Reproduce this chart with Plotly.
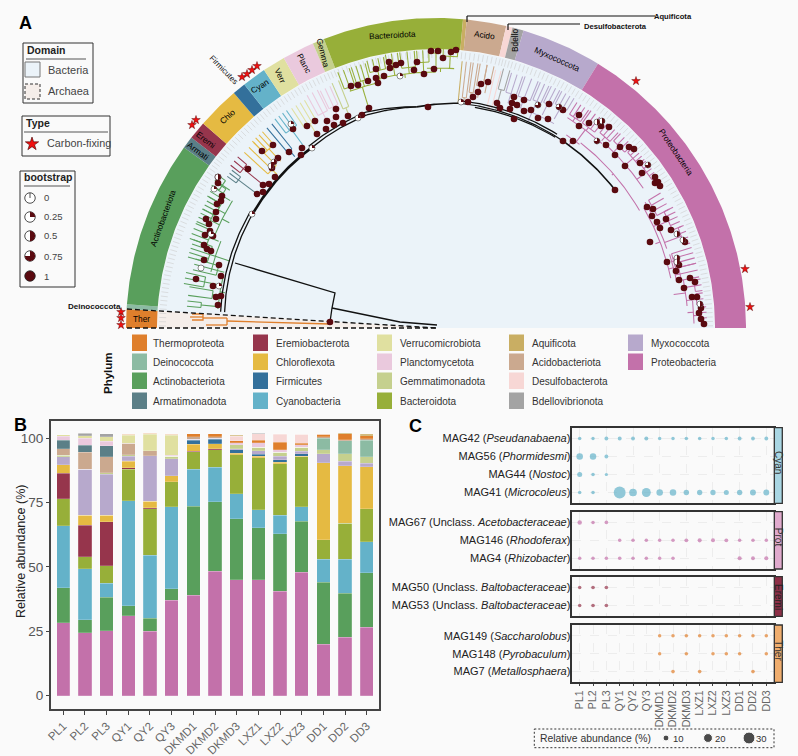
import numpy as np
import plotly.graph_objects as go

W, H = 798, 756
FONT = "Liberation Sans"
BG = "#FAFAFA"
DARK = "#5A0A10"

# ---------- Phylum table ----------
phyla = ["Thermoproteota", "Deinococcota", "Actinobacteriota", "Armatimonadota", "Eremiobacterota",
         "Chloroflexota", "Firmicutes", "Cyanobacteria", "Verrucomicrobiota", "Planctomycetota",
         "Gemmatimonadota", "Bacteroidota", "Aquificota", "Acidobacteriota", "Desulfobacterota",
         "Bdellovibrionota", "Myxococcota", "Proteobacteria"]
phylum_colors = ["#DF7F2C", "#8CBBA3", "#599F5C", "#5B7F87", "#96354C", "#E5BA42", "#33709B", "#64B2C9",
                 "#E0E0A0", "#EAC9DD", "#C5D08E", "#97AF39", "#C9AE63", "#CBA98F", "#F7D7D5", "#A3A3A3",
                 "#B7A9CC", "#C371AA"]
# angle (degrees) at which each ring sector starts and ends
ring_from = [180, 176.5, 175.6, 144.4, 142.1, 138.7, 130.7, 128.2, 123.7, 119.4, 113.4, 111.2, 85, 84.3, 76.9, 75.7, 73.6, 58.5]
ring_to = [176.5, 175.6, 144.4, 142.1, 138.7, 130.7, 128.2, 123.7, 119.4, 113.4, 111.2, 85, 84.3, 76.9, 75.7, 73.6, 58.5, 0]
leaf_counts = [4, 1, 35, 3, 4, 9, 3, 5, 5, 7, 3, 29, 1, 8, 2, 3, 17, 64]

# ---------- Tree: clades as (r_spine, theta_from, theta_to, tips, r_tip, r_stem) ----------
clades = {
    "Thermoproteota": [],
    "Actinobacteriota": [(236, 175, 173.8, 2, 250, 219), (226, 172.5, 170.5, 2, 250, 219), (236, 170, 167.5, 3, 256, 224),
                         (226, 166.5, 164, 3, 250, 219), (238, 164, 160, 5, 258, 232), (244, 160, 156.5, 4, 262, 234),
                         (250, 156, 153, 4, 262, 240), (248, 153, 150, 4, 262, 240), (252, 150, 146.5, 4, 264, 242),
                         (257, 147.5, 145, 3, 266, 248), (219, 175, 166, 0, 0, 214), (232, 166, 158, 0, 0, 217),
                         (240, 158, 148, 0, 0, 232)],
    "Armatimonadota": [(247, 144, 142.3, 3, 258, 224)],
    "Eremiobacterota": [(250, 141.6, 139.2, 3, 262, 224)],
    "Chloroflexota": [(228, 137.5, 134.5, 3, 260, 221), (245, 134.5, 131.5, 4, 262, 228)],
    "Firmicutes": [(230, 130.2, 128.8, 2, 262, 222)],
    "Cyanobacteria": [(246, 127.6, 124.5, 4, 264, 226)],
    "Verrucomicrobiota": [(240, 123.3, 120, 4, 263, 228)],
    "Planctomycetota": [(243, 119, 116.5, 3, 266, 232), (244, 116, 113.7, 3, 264, 232), (232, 118, 115, 0, 0, 226)],
    "Gemmatimonadota": [(238, 113, 111.5, 2, 266, 230)],
    "Bacteroidota": [(256, 111, 108.5, 3, 274, 252), (258, 108, 105, 4, 274, 252), (264, 104.5, 101, 4, 276, 254),
                     (268, 100.5, 98, 3, 278, 256), (262, 97.5, 94.5, 3, 278, 256), (266, 94, 91.5, 3, 278, 256),
                     (275, 91, 89, 2, 281, 262), (272, 88.5, 85.5, 3, 280, 260), (252, 110, 104, 0, 0, 230),
                     (256, 104, 90, 0, 0, 252), (260, 92, 86, 0, 0, 256)],
    "Aquificota": [(232, 84.4, 84.4, 1, 268, 226)],
    "Acidobacteriota": [(232, 83.5, 82.5, 2, 268, 226), (238, 82, 81, 2, 268, 228), (246, 80.5, 79, 2, 268, 234),
                        (252, 79, 77.5, 2, 268, 240)],
    "Desulfobacterota": [(228, 77, 75.8, 2, 265, 224)],
    "Bdellovibrionota": [(247, 75.4, 74, 2, 268, 226)],
    "Myxococcota": [(246, 73.5, 71, 3, 266, 236), (246, 70.5, 67.5, 3, 267, 236), (248, 67, 65, 3, 267, 238),
                    (250, 64.5, 62.5, 3, 268, 238), (254, 62, 59, 4, 268, 240), (236, 72, 60, 0, 0, 226)],
    "Proteobacteria": [(252, 58, 55, 4, 266, 248), (252, 54.5, 51, 4, 267, 248), (255, 50, 47, 4, 267, 250),
                       (258, 46.5, 43, 4, 268, 250), (260, 42.5, 39, 5, 268, 250), (262, 38.5, 34.5, 5, 268, 250),
                       (248, 58, 48, 0, 0, 233), (250, 48, 34, 0, 0, 248), (233, 56, 52, 0, 0, 226),
                       (235, 52, 30, 0, 0, 233), (240, 30, 12, 0, 0, 235), (248, 31, 27, 4, 262, 244),
                       (256, 27, 22.5, 5, 266, 244), (262, 22.5, 18.5, 4, 268, 244), (244, 31, 19, 0, 0, 240),
                       (247, 17.5, 14, 4, 268, 245), (250, 14, 11, 3, 268, 245), (245, 17.5, 11, 0, 0, 240),
                       (262, 10.5, 8, 3, 269, 252), (262, 7.5, 5, 3, 269, 252), (266, 4.5, 1, 4, 271, 258),
                       (252, 11, 5, 0, 0, 240), (258, 6, 1, 0, 0, 252)],
}
# backbone pieces: (r_from, r_to, theta_from, theta_to, width)
backbone = [(212, 216, 175.7, 148, 1.3), (216, 219, 175.7, 148, 1.3), (216, 219, 148, 125, 2.6), (219, 224, 125, 108, 1.3),
            (222, 227, 125, 108, 1.3), (224, 222, 108, 95, 1.3), (227, 222, 108, 95, 1.3), (222, 226, 95, 84, 1.6),
            (226, 226, 84, 55, 1.2), (228.5, 228.5, 84, 58, 1.2), (224, 225, 80, 58, 1.2), (226, 226, 55, 37.6, 1.6)]
root_a_x, root_a_y = [-201, -101, -104, -106], [65, 35, 20, 6]
root_b_x, root_b_y = [-104, -36, 1], [20, 6, 3]
ther_x = [-106, -209, None, -209, -209, None, -233, -209, None, -230, -209, None, -244, -233, -233, -244, None, -246, -233]
ther_y = [4, 7, None, 10, 3, None, 10, 10, None, 3, 3, None, 14, 14, 8, 8, None, 11, 11]

# supported nodes
node_x = [-218, -218, -214, -215, -219, -220, -220, -230, -227, -226, -231, -223, -232, -229, -225, -232, -217, -215, -240, -223, -215, -220, -218,
          -100, -67, -74, -88, -100, -109, -121, -129, -102, -110, -93, -119, -143, -134, -135, -147, -163, -174, -158, -161, -188, -167, -173, -173, -179, -164,
          -5, 2, 15, 20, 7, -19, -47, -35, -40, -46, -60, -22, -2, -12, -52, -60, -68, -58, -78, -85, -8,
          32, 37, 42, 45, 52, 61, 64, 78, 76, 81, 88, 74, 78, 88, 95, 113, 102, 112, 127,
          143, 143, 153, 165, 173, 127, 137, 170, 184, 193, 198, 179, 189, 204, 206, 219, 219, 222, 224, 179, 211, 217, 216, 221, 230, 224, 235, 249, 214,
          243, 231, 240, 243, 254, 259, 248, 256, 261, 265, 263, 265, 268, -106]
node_y = [151, 145, 132, 127, 124, 116, 109, 109, 104, 97, 93, 92, 83, 79, 77, 68, 63, 52, 49, 42, 32, 31, 23,
          219, 220, 213, 212, 211, 207, 207, 202, 203, 199, 205, 194, 199, 180, 173, 176, 183, 177, 170, 151, 159, 144, 143, 136, 134, 160,
          277, 277, 276, 278, 270, 266, 266, 265, 263, 260, 259, 258, 259, 254, 252, 250, 247, 245, 243, 242, 221,
          226, 231, 236, 244, 246, 225, 220, 231, 225, 223, 228, 219, 209, 217, 218, 224, 210, 209, 218,
          213, 202, 205, 202, 201, 187, 187, 183, 181, 181, 179, 173, 162, 165, 155, 151, 145, 146, 142, 138, 121, 119, 112, 106, 109, 100, 98, 86, 86,
          63, 66, 57, 48, 50, 46, 40, 31, 31, 20, 15, 9, 4, 6]
# nodes with partial support: position and bootstrap
weak_x = [-218, -222, -225, -235, -217, -184, -78, -145, -124, -162, -165, -36, 25, 102, 123, 161, 166, 161, 212, 241, 247, 241, 241, 264]
weak_y = [151, 139, 94, 60, 42, 114, 210, 204, 180, 166, 162, 252, 226, 223, 221, 206, 207, 187, 163, 94, 88, 70, 66, 24]
weak_b = [.5, .25, .25, 0, .25, .25, .25, .25, .25, .75, .5, .25, .25, .75, .75, .5, .5, .75, .75, .5, .5, .5, .5, .5]

star_x = [-194, -189, -184, -179, -244, -240, -315, -315, -315, 200, 309, 314]
star_y = [251, 254, 258, 262, 203, 208, 16, 10, 3, 247, 59, 21]

boot_levels = [0, .25, .5, .75, 1]

# ---------- Panel B ----------
samples = ["PL1", "PL2", "PL3", "QY1", "QY2", "QY3", "DKMD1", "DKMD2", "DKMD3", "LXZ1", "LXZ2", "LXZ3", "DD1", "DD2", "DD3"]
abundance = {
    "Proteobacteria": [28.3, 24.5, 25.2, 31, 25, 37, 39, 48.3, 45, 45, 40.5, 48, 20, 22.7, 26.5],
    "Actinobacteriota": [13.7, 5, 13, 4, 5, 4.5, 34.5, 27, 23.7, 20.3, 22.3, 19.7, 24, 17.1, 21.2],
    "Cyanobacteria": [24, 19.7, 5.5, 40.7, 24.5, 31.8, 14.5, 13.5, 9.8, 7, 7.2, 5.6, 9, 13.2, 12.1],
    "Bacteroidota": [10.5, 4.8, 6.8, 12.3, 18, 9.7, 6.7, 6.8, 15, 20.2, 20, 19.4, 7.5, 14, 12.7],
    "Eremiobacterota": [9.8, 12.1, 17.1, .5, .5, 0, .2, .4, 0, 0, 0, 0, 0, 0, 0],
    "Chloroflexota": [3.4, 3.9, 2.4, 2.5, 2.5, 2.5, 2.8, 1.8, .7, .5, .7, .3, 30, 22.3, 16.5],
    "Firmicutes": [0, 0, 0, .2, 0, 0, 1.5, 1.7, 1.3, .8, 1, 1, 0, 0, 0],
    "Myxococcota": [3.1, 18, 16, 1.8, 17.7, 6.5, .4, .5, .5, 1.4, 1.3, 1, 3.5, 1.7, 1.3],
    "Gemmatimonadota": [.5, 0, .6, .5, 0, 1, 0, 0, 1.5, 1.3, 1.5, 1.5, 1.5, 3, 2.5],
    "Deinococcota": [0, 0, 0, 0, 0, 0, 0, 0, 0, 0, 0, 0, 4.5, 5, 6.5],
    "Acidobacteriota": [2.7, 6.5, 6.1, 4.5, 2, 0, .9, .5, 0, 0, 0, 0, .5, .4, .5],
    "Armatimonadota": [3.2, 2.8, 4.3, 0, 0, 0, 0, 0, 0, 0, 0, 0, 0, 0, 0],
    "Planctomycetota": [1.5, 2.7, 1.8, 0, 0, .4, 0, 0, .8, 1.8, 1, 1, 0, 0, 0],
    "Verrucomicrobiota": [.6, 1, 1.7, 3.2, 6.4, 7.8, 0, 0, 0, 0, 0, 0, 0, 0, 0],
    "Thermoproteota": [0, 0, 0, .3, .4, .3, 1.2, 1.2, .7, .9, 3, .5, 1, 2.3, 1.2],
    "Desulfobacterota": [0, 0, 0, 0, 0, 0, 0, 0, 1.8, 2.5, 3, 3.5, 0, 0, 0],
    "Bdellovibrionota": [0, 1, 1.3, 0, 0, 0, 0, 0, .2, .2, .2, 0, 0, 0, 0],
    "Aquificota": [0, 0, 0, 0, 0, 0, 0, 0, .2, 0, 0, .1, .3, .2, .6],
}

# ---------- Panel C (None = not detected) ----------
N = None
cyan_mags = ["MAG42 (<i>Pseudanabaena</i>)", "MAG56 (<i>Phormidesmi</i>)", "MAG44 (<i>Nostoc</i>)", "MAG41 (<i>Microcoleus</i>)"]
cyan_vals = [[2, 1.5, 3, 3.5, 3, 3.5, 2, 2, 2, 2, 2, 2, 3, 3, 3],
             [12, 12, 3, N, N, N, N, N, N, N, N, N, N, N, N],
             [7, 2, 1, N, N, N, N, N, N, N, N, N, N, N, N],
             [2, 2, N, 30, 16, 20, 12, 12, 8.5, 8, 8, 7, 8, 10, 10]]
prot_mags = ["MAG67 (Unclass. <i>Acetobacteraceae</i>)", "MAG146 (<i>Rhodoferax</i>)", "MAG4 (<i>Rhizobacter</i>)"]
prot_vals = [[5, 2, 2.5, N, N, N, N, N, N, N, N, N, N, N, N],
             [N, N, N, 2, 2, 2, 2, 2, 3, 4, 3.5, 3, 2, 2, 2],
             [2, 2, 2, 2.5, 2, 2, 2, 2, N, N, N, N, 4, 3, 4]]
erem_mags = ["MAG50 (Unclass. <i>Baltobacteraceae</i>)", "MAG53 (Unclass. <i>Baltobacteraceae</i>)"]
erem_vals = [[2, 2.5, 2.5, N, N, N, N, N, N, N, N, N, N, N, N],
             [2, 2.5, 2.5, N, N, N, N, N, N, N, N, N, N, N, N]]
ther_mags = ["MAG149 (<i>Saccharolobus</i>)", "MAG148 (<i>Pyrobaculum</i>)", "MAG7 (<i>Metallosphaera</i>)"]
ther_vals = [[N, N, N, N, N, N, 2, 2, 2, 2, 2, 2, 2, 2, 2],
             [N, N, N, N, N, N, 2, N, 2, N, 2, 2, 2, N, 2],
             [N, N, N, N, N, N, N, 2.5, N, 2.5, N, N, N, 2.5, N]]
size_legend = [10, 20, 30]


# ---------- helpers ----------
def bubble(v):
    return 2.9 + .3 * v


def pol(r, deg):
    a = np.radians(deg)
    return r * np.cos(a), r * np.sin(a)


def arc(r0, r1, t0, t1):
    n = max(2, int(abs(t1 - t0) * 2) + 1)
    t = np.linspace(t0, t1, n)
    r = np.linspace(r0, r1, n)
    return pol(r, t)


def sector(r_in, r_out, t0, t1):
    xo, yo = arc(r_out, r_out, t0, t1)
    xi, yi = arc(r_in, r_in, t1, t0)
    return list(xo) + list(xi) + [xo[0]], list(yo) + list(yi) + [yo[0]]


def px_x(v):
    return v / W


def px_y(v):
    return 1 - v / H


annots, shapes = [], []


def note(x, y, text, size=10, color="#333333", angle=0, xanchor="center", bold=False):
    annots.append(dict(x=px_x(x), y=px_y(y), xref="paper", yref="paper", text=f"<b>{text}</b>" if bold else text,
                       showarrow=False, textangle=angle, xanchor=xanchor, yanchor="middle",
                       font=dict(family=FONT, size=size, color=color), borderpad=0))


def box(x0, y0, x1, y1, line="#333333", width=1, fill="rgba(0,0,0,0)", dash="solid"):
    shapes.append(dict(type="rect", xref="paper", yref="paper", x0=px_x(x0), x1=px_x(x1), y0=px_y(y0), y1=px_y(y1),
                       line=dict(color=line, width=width, dash=dash), fillcolor=fill))


def rule(x0, y0, x1, y1, line="#333333", width=1):
    shapes.append(dict(type="line", xref="paper", yref="paper", x0=px_x(x0), x1=px_x(x1), y0=px_y(y0), y1=px_y(y1),
                       line=dict(color=line, width=width)))


fig = go.Figure()
T = dict(xaxis="x", yaxis="y", showlegend=False, hoverinfo="skip")


def poly(x, y, color, width=1.2, dash=None, fill=False):
    if fill:
        fig.add_trace(go.Scatter(x=x, y=y, mode="lines", fill="toself", fillcolor=color, line=dict(width=0), **T))
    else:
        fig.add_trace(go.Scatter(x=x, y=y, mode="lines", line=dict(color=color, width=width, dash=dash), **T))


def wedge(cx, cy, rad, frac):
    t = np.linspace(90, 90 - 360 * frac, 25)
    return [cx] + list(cx + rad * np.cos(np.radians(t))) + [cx], [cy] + list(cy + rad * np.sin(np.radians(t))) + [cy]


# ---------- Panel A ----------
x, y = sector(0.01, 278.5, 0, 176.4)
poly(x, y, "#EBF3F9", fill=True)
poly([0, -278, -278, 0], [0, 0, 17, 0], "#F5EEEA", fill=True)
for i, name in enumerate(phyla):
    x, y = sector(279, 310, ring_from[i], ring_to[i])
    poly(x, y, phylum_colors[i], fill=True)

tx, ty = [], []
for i, n in enumerate(leaf_counts):
    w = (ring_from[i] - ring_to[i]) / n
    for k in range(n):
        th = ring_from[i] - w * (k + .5)
        a, b = pol(270, th)
        c, d = pol(277, th)
        tx += [a, c, None]
        ty += [b, d, None]
poly(tx, ty, "#CCCCCC", width=.6)

for name, rows in clades.items():
    col = phylum_colors[phyla.index(name)]
    bx, by = [], []
    for rs, t0, t1, n, rt, rstem in rows:
        a, b = arc(rs, rs, t0, t1)
        bx += list(a) + [None]
        by += list(b) + [None]
        a, b = pol(np.array([rs, rstem]), (t0 + t1) / 2)
        bx += list(a) + [None]
        by += list(b) + [None]
        if n:
            for th in np.linspace(t0, t1, n):
                a, b = pol(np.array([rs, rt]), th)
                bx += list(a) + [None]
                by += list(b) + [None]
    if bx:
        poly(bx, by, col, width=1.05)
poly(ther_x, ther_y, phylum_colors[0], width=1.3)

for r0, r1, t0, t1, wd in backbone:
    a, b = arc(r0, r1, t0, t1)
    poly(list(a), list(b), "#111111", width=wd)
poly(root_a_x, root_a_y, "#111111", width=1.3)
poly(root_b_x, root_b_y, "#111111", width=1.3)
poly([-309, 0], [19, 0], "#111111", width=1.3, dash="5px,3px")
poly([-309, 0], [0, 0], "#111111", width=1.3, dash="5px,3px")

fig.add_trace(go.Scatter(x=node_x, y=node_y, mode="markers", marker=dict(size=6.6, color=DARK, line=dict(width=0)), **T))
fig.add_trace(go.Scatter(x=weak_x, y=weak_y, mode="markers",
                         marker=dict(size=6, color="white", line=dict(width=.5, color="#222222")), **T))
for cx, cy, f in zip(weak_x, weak_y, weak_b):
    if f > 0:
        a, b = wedge(cx, cy, 3, f)
        poly(a, b, DARK, fill=True)
fig.add_trace(go.Scatter(x=star_x, y=star_y, mode="markers",
                         marker=dict(symbol="star", size=6.5, color="#F01010", line=dict(width=.4, color="#400000")), **T))

# legend dots for bootstrap and for bubble size, on the same page-wide scale
for yy, f in zip([130, 111, 92, 72, 52], boot_levels):
    fig.add_trace(go.Scatter(x=[-406], y=[yy], mode="markers",
                             marker=dict(size=10.5, color=DARK if f == 1 else "white", line=dict(width=.8, color="#222222")), **T))
    if 0 < f < 1:
        a, b = wedge(-406, yy, 5.2, f)
        poly(a, b, DARK, fill=True)
    if f == 0:
        poly([-406, -406], [yy, yy + 5], "#222222", width=.8)
fig.add_trace(go.Scatter(x=[-404], y=[184], mode="markers",
                         marker=dict(symbol="star", size=10, color="#F01010", line=dict(width=.6, color="#400000")), **T))
fig.add_trace(go.Scatter(x=[230, 272, 313], y=[-410, -410, -410], mode="markers",
                         marker=dict(size=[bubble(v) for v in size_legend], color="#000000"), **T))

ring_labels = [("Ther", 141, 319, 0), ("Actinobacteriota", 163, 218, -70), ("Armati", 198, 151, 36), ("Eremi", 206, 140, 38),
               ("Chlo", 227, 117, -42), ("Cyan", 260, 86, -32), ("Verr", 280, 75, 65), ("Planc", 304, 63, 62),
               ("Gemma", 323, 53, 76), ("Bacteroidota", 392, 35, -3), ("Acido", 484, 35, 8), ("Bdello", 515, 41, -90),
               ("Myxococcota", 557, 59, 24), ("Proteobacteria", 676, 152, 56)]
for t, a, b, r in ring_labels:
    note(a, b, t, size=8.3, color="#000000", angle=r)
note(223, 70, "Firmicutes", size=8, color="#111111", angle=46)
note(94, 306, "Deinococcota", size=8, color="#111111", bold=True)
note(673, 16, "Aquificota", size=7.6, color="#111111", bold=True)
note(615, 26, "Desulfobacterota", size=7.6, color="#111111", bold=True)
for pts in [[(467, 22), (467, 16), (655, 16)], [(508, 30), (508, 24), (580, 24)]]:
    for p, q in zip(pts, pts[1:]):
        rule(p[0], p[1], q[0], q[1], line="#111111", width=1.2)

note(25, 23, "A", size=18, color="#000000", bold=True)
note(20, 425, "B", size=18, color="#000000", bold=True)
note(415, 426, "C", size=18, color="#000000", bold=True)

box(23, 43, 93, 103)
note(26, 50, "Domain", size=10.5, xanchor="left", bold=True, color="#222222")
rule(26, 59, 86, 59, line="#555555")
box(25, 62, 40, 77, line="#777777", fill="#EBF3F9")
box(25, 84, 40, 99, line="#333333", fill="#F5EEEA", dash="3px,2px")
note(47, 70, "Bacteria", size=11, xanchor="left", color="#444444")
note(47, 91, "Archaea", size=11, xanchor="left", color="#444444")
box(22, 116, 110, 156)
note(25, 123, "Type", size=10.5, xanchor="left", bold=True, color="#222222")
rule(24, 132, 108, 132, line="#555555")
note(46, 143, "Carbon-fixing", size=10.8, xanchor="left", color="#444444")
box(20, 171, 75, 287)
note(23, 177, "bootstrap", size=10.5, xanchor="left", bold=True, color="#222222")
rule(24, 186, 70, 186, line="#555555")
for yy, f in zip([198, 217, 236, 256, 276], boot_levels):
    note(43, yy, f"{f:g}", size=9.5, xanchor="left", color="#444444")

legend_cols = [(132, 152), (253, 274.5), (377, 399), (509, 531), (628, 650)]
legend_rows = [343, 362, 381, 401]
order = [["Thermoproteota", "Deinococcota", "Actinobacteriota", "Armatimonadota"],
         ["Eremiobacterota", "Chloroflexota", "Firmicutes", "Cyanobacteria"],
         ["Verrucomicrobiota", "Planctomycetota", "Gemmatimonadota", "Bacteroidota"],
         ["Aquificota", "Acidobacteriota", "Desulfobacterota", "Bdellovibrionota"],
         ["Myxococcota", "Proteobacteria"]]
for (sx, txx), names in zip(legend_cols, order):
    for yy, nm in zip(legend_rows, names):
        box(sx, yy - 8.5, sx + 15, yy + 8, line=phylum_colors[phyla.index(nm)], width=0,
            fill=phylum_colors[phyla.index(nm)])
        note(txx, yy, nm, size=10, xanchor="left", color="#333333")
note(108, 373, "Phylum", size=11.5, angle=-90, bold=True, color="#111111")

# ---------- Panel B ----------
for name, vals in abundance.items():
    fig.add_trace(go.Bar(x=samples, y=vals, width=.62, xaxis="x2", yaxis="y2", showlegend=False,
                         marker=dict(color=phylum_colors[phyla.index(name)],
                                     line=dict(width=.4, color="rgba(255,255,255,.45)")), name=name))
note(21, 552, "Relative abundance (%)", size=12.5, angle=-90, color="#222222")


# ---------- Panel C ----------
def dots(mags, vals, col, xa, ya):
    for label, row in zip(mags, vals):
        xs = [s for s, v in zip(samples, row) if v is not None]
        sz = [bubble(v) for v in row if v is not None]
        fig.add_trace(go.Scatter(x=xs, y=[label] * len(xs), mode="markers", xaxis=xa, yaxis=ya, showlegend=False,
                                 marker=dict(size=sz, color=col, line=dict(width=0))))


dots(cyan_mags, cyan_vals, phylum_colors[7], "x3", "y3")
dots(prot_mags, prot_vals, phylum_colors[17], "x4", "y4")
dots(erem_mags, erem_vals, phylum_colors[4], "x5", "y5")
dots(ther_mags, ther_vals, phylum_colors[0], "x6", "y6")

PLEFT, PRIGHT = 572.3, 774.3
panels = [(427.7, 503.3, cyan_mags, "Cyan", "#A9D6E3", "#333333"),
          (511.7, 569, prot_mags, "Prot", "#E0AACD", "#333333"),
          (576.7, 616.3, erem_mags, "Eremi", "#8D2F47", "#222222"),
          (625, 682.3, ther_mags, "Ther", "#EFAD6E", "#333333")]

layout_axes = {}
layout_axes["xaxis"] = dict(domain=[0, 1], range=[-436, 362], visible=False, fixedrange=True, anchor="y")
layout_axes["yaxis"] = dict(domain=[0, 1], range=[-428, 328], visible=False, fixedrange=True, anchor="x")
layout_axes["xaxis2"] = dict(domain=[px_x(50.7), px_x(379.3)], anchor="y2", type="category", range=[-.58, 14.58],
                             categoryorder="array", categoryarray=samples, showline=True, mirror=True,
                             linecolor="#444444", linewidth=1.5, ticks="outside", ticklen=4, tickcolor="#444444",
                             tickangle=-45, showgrid=False, tickfont=dict(family=FONT, size=11.5, color="#666666"))
layout_axes["yaxis2"] = dict(domain=[px_y(709), px_y(420.7)], anchor="x2", range=[-5.2, 106.8], tickvals=[0, 25, 50, 75, 100],
                             showline=True, mirror=True, linecolor="#444444", linewidth=1.5, ticks="outside", ticklen=3,
                             tickcolor="#444444", showgrid=False, zeroline=False,
                             tickfont=dict(family=FONT, size=13.5, color="#555555"))
for i, (top, bot, mags, strip, col, tcol) in enumerate(panels):
    k = i + 3
    layout_axes[f"xaxis{k}"] = dict(domain=[px_x(PLEFT), px_x(PRIGHT)], anchor=f"y{k}", type="category",
                                    range=[-.555, 14.6], categoryorder="array", categoryarray=samples,
                                    showline=True, mirror=True, linecolor="#333333", linewidth=1.5,
                                    showgrid=True, gridcolor="#EDEDED", griddash="dash", gridwidth=.5,
                                    showticklabels=(i == 3), ticks="outside" if i == 3 else "", ticklen=2,
                                    tickcolor="#444444", tickangle=-90, tickfont=dict(family=FONT, size=10.6, color="#666666"))
    layout_axes[f"yaxis{k}"] = dict(domain=[px_y(bot), px_y(top)], anchor=f"x{k}", type="category",
                                    categoryorder="array", categoryarray=mags,
                                    range=[len(mags) - .4, -.6], showline=True, mirror=True, linecolor="#333333",
                                    linewidth=1.5, showgrid=True, gridcolor="#EDEDED", griddash="dash", gridwidth=.5,
                                    ticks="", ticklen=0, ticklabelstandoff=-2,
                                    tickfont=dict(family=FONT, size=11, color="#222222"))
    box(PRIGHT, top, 782.3, bot, line="#333333", width=1.3, fill=col)
    note(778.5, (top + bot) / 2 - (3 if strip != "Eremi" else 0), strip, size=10, angle=90, color=tcol)

box(534.3, 729, 774, 747.7, line="#333333", width=1, dash="2px,2px")
note(539, 738, "Relative abundance (%)", size=10.4, xanchor="left", color="#333333")
for xx, v in zip([672, 714, 755], size_legend):
    note(xx, 738, str(v), size=9.5, xanchor="left", color="#333333")

fig.update_layout(width=W, height=H, margin=dict(l=0, r=0, t=0, b=0, autoexpand=False), paper_bgcolor=BG,
                  plot_bgcolor="rgba(0,0,0,0)", barmode="stack", showlegend=False, annotations=annots, shapes=shapes,
                  font=dict(family=FONT), **layout_axes)
fig.write_html("out.html", post_script="document.body.style.margin='0';document.body.style.background='#FAFAFA';",
               config=dict(displayModeBar=False))
